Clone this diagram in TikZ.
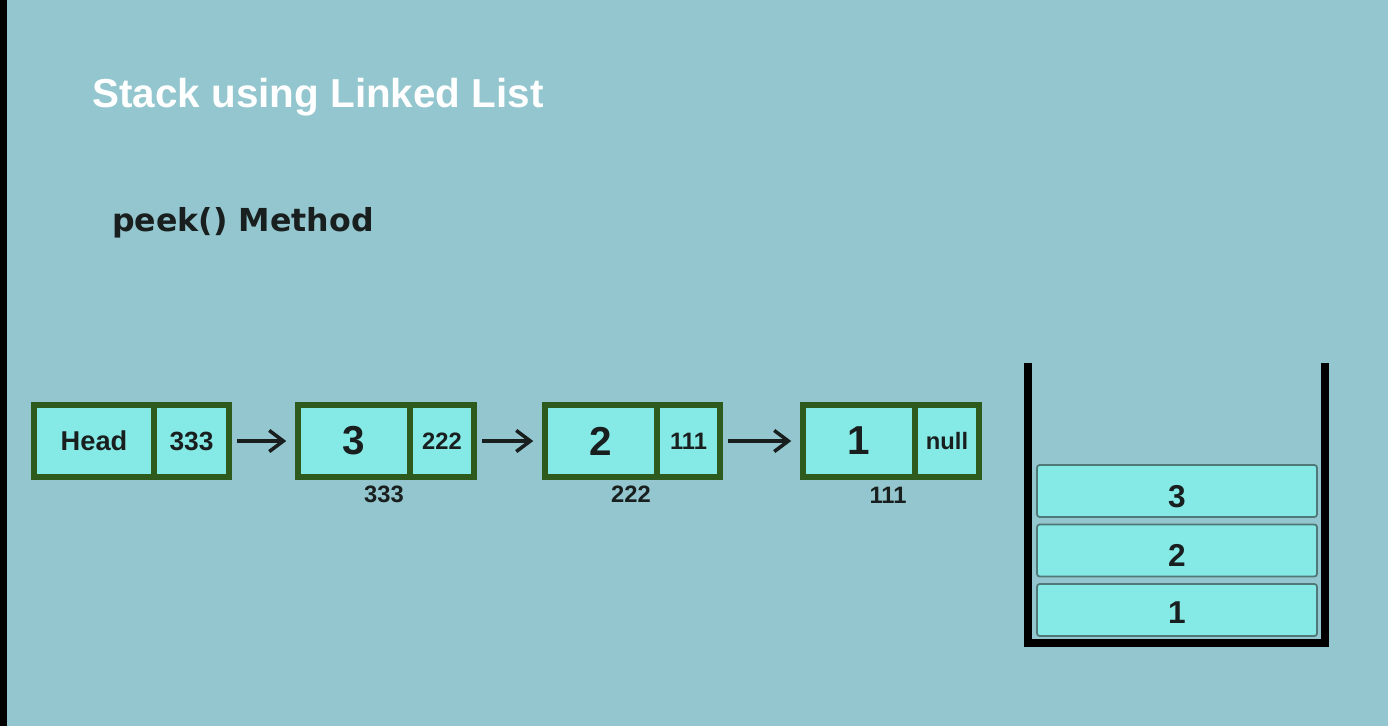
\documentclass[tikz,border=0pt]{standalone}
\usepackage{fontspec}
\setmainfont{Liberation Sans}
\newfontfamily\dejavu{DejaVu Sans}
\usetikzlibrary{arrows.meta}
\definecolor{bgc}{RGB}{147,198,206}
\definecolor{cellfill}{RGB}{133,233,229}
\definecolor{cellline}{RGB}{46,90,30}
\definecolor{ink}{RGB}{25,30,30}
\definecolor{itemline}{RGB}{80,120,120}
\tikzset{
  cell/.style={draw=cellline, line width=3.4pt, fill=cellfill, inner sep=0pt,
    minimum height=1.44cm, text=ink, font=\bfseries},
  bigval/.style={cell, font=\bfseries\fontsize{23}{23}\selectfont},
  ptr/.style={cell, font=\bfseries\fontsize{13.5}{13.5}\selectfont},
  addr/.style={text=ink, inner sep=0pt, font=\bfseries\fontsize{13.5}{13.5}\selectfont},
  link/.style={draw=ink, line width=2pt, -{Straight Barb[length=8pt,width=12pt,line width=2pt]},
    shorten <=3pt, shorten >=5pt},
  item/.style={draw=itemline, line width=1pt, fill=cellfill, rounded corners=1.5pt,
    minimum width=5.6cm, minimum height=1.04cm, inner sep=0pt, text=ink,
    font=\bfseries\fontsize{18}{18}\selectfont},
  itemtext/.style={text=ink, inner sep=0pt, font=\bfseries\fontsize{18}{18}\selectfont},
  wall/.style={draw=black, line width=5pt}
}
\begin{document}
\begin{tikzpicture}[x=0.02cm,y=-0.02cm]
\fill[bgc] (0,0) rectangle (1388,726);
\fill[black] (0,0) rectangle (7,726);
\useasboundingbox (0,0) rectangle (1388,726);

\node[anchor=base west, text=white, inner sep=0pt, font=\bfseries\fontsize{23}{23}\selectfont] (title) at (92,108) {Stack using Linked List};
\node[anchor=base west, text=ink, inner sep=0pt, font=\dejavu\bfseries\fontsize{18}{18}\selectfont] (sub) at (112,232) {peek() Method};

% Head node
\node[cell, minimum width=2.4cm, font=\bfseries\fontsize{15.5}{15.5}\selectfont] (hd) at (94,441) {Head};
\node[cell, minimum width=1.5cm, font=\bfseries\fontsize{15}{15}\selectfont] (hp) at (191.5,441) {333};

% node 3
\node[bigval, minimum width=2.24cm] (d3) at (354,441) {3};
\node[ptr, minimum width=1.28cm] (p3) at (442,441) {222};
\node[addr] (a3) at (384,494) {333};

% node 2
\node[bigval, minimum width=2.24cm] (d2) at (601,441) {2};
\node[ptr, minimum width=1.26cm] (p2) at (688.5,441) {111};
\node[addr] (a2) at (631,494) {222};

% node 1
\node[bigval, minimum width=2.24cm] (d1) at (859,441) {1};
\node[ptr, minimum width=1.28cm] (p1) at (947,441) {null};
\node[addr] (a1) at (888,495) {111};

\draw[link] (hp.east) -- (d3.west);
\draw[link] (p3.east) -- (d2.west);
\draw[link] (p2.east) -- (d1.west);

% stack container
\coordinate (wtl) at (1028,363);
\coordinate (wbl) at (1028,643);
\coordinate (wbr) at (1325,643);
\coordinate (wtr) at (1325,363);
\draw[wall, line cap=butt, line join=miter] (wtl) -- (wbl) -- (wbr) -- (wtr);

\node[item] (s3) at (1177,491) {};
\node[item] (s2) at (1177,550.5) {};
\node[item] (s1) at (1177,610) {};
\node[itemtext] (t3) at (1177,497) {3};
\node[itemtext] (t2) at (1177,555) {2};
\node[itemtext] (t1) at (1177,613) {1};
\end{tikzpicture}
\end{document}
